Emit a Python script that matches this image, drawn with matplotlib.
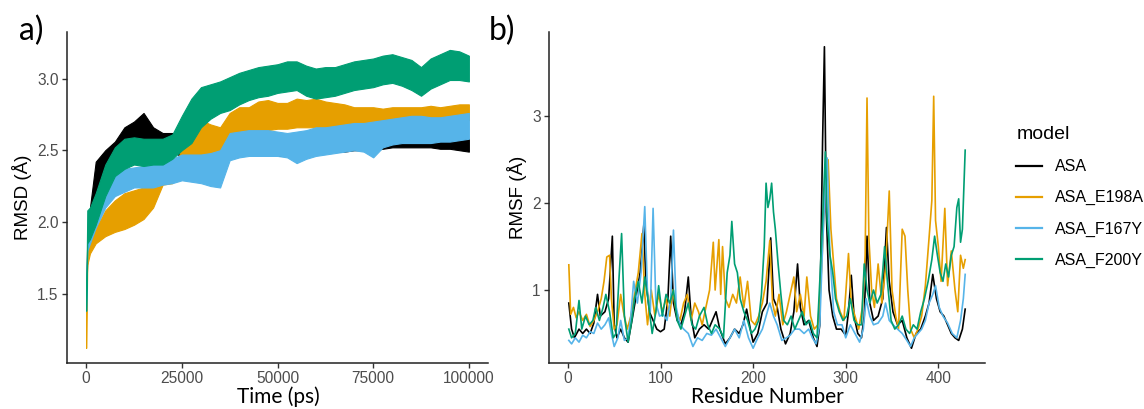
import matplotlib
matplotlib.use("Agg")
import matplotlib.pyplot as plt
import numpy as np

# ---------------- panel a: RMSD band (upper / lower edge) ----------------
time_ps = [0, 300, 1000, 2500, 5000, 7500, 10000, 12500, 15000, 17500, 20000, 22500, 25000,
           27500, 30000, 32500, 35000, 37500, 40000, 42500, 45000, 47500, 50000, 52500, 55000,
           57500, 60000, 62500, 65000, 67500, 70000, 72500, 75000, 77500, 80000, 82500, 85000,
           87500, 90000, 92500, 95000, 97500, 100000]

asa_hi = [1.45, 1.90, 2.10, 2.42, 2.50, 2.56, 2.66, 2.70, 2.76, 2.66, 2.62, 2.62, 2.60,
          2.55, 2.55, 2.55, 2.55, 2.58, 2.60, 2.62, 2.62, 2.62, 2.62, 2.61, 2.62,
          2.61, 2.62, 2.61, 2.62, 2.62, 2.61, 2.62, 2.61, 2.62, 2.62, 2.60, 2.61,
          2.60, 2.60, 2.59, 2.59, 2.58, 2.58]
asa_lo = [1.40, 1.75, 1.95, 2.15, 2.33, 2.40, 2.45, 2.55, 2.58, 2.50, 2.48, 2.50, 2.45,
          2.42, 2.43, 2.42, 2.44, 2.46, 2.47, 2.47, 2.46, 2.46, 2.46, 2.46, 2.47,
          2.47, 2.48, 2.48, 2.49, 2.49, 2.50, 2.50, 2.50, 2.51, 2.52, 2.52, 2.52,
          2.52, 2.52, 2.51, 2.51, 2.50, 2.49]

e198a_hi = [1.36, 1.80, 1.90, 1.95, 2.08, 2.15, 2.20, 2.22, 2.24, 2.29, 2.31, 2.32, 2.52,
            2.62, 2.71, 2.68, 2.66, 2.76, 2.80, 2.80, 2.84, 2.85, 2.83, 2.83, 2.86,
            2.85, 2.86, 2.84, 2.83, 2.82, 2.80, 2.80, 2.80, 2.79, 2.80, 2.80, 2.80,
            2.80, 2.81, 2.80, 2.81, 2.82, 2.82]
e198a_lo = [1.12, 1.70, 1.78, 1.85, 1.90, 1.93, 1.95, 1.98, 2.02, 2.10, 2.26, 2.27, 2.33,
            2.43, 2.46, 2.46, 2.48, 2.58, 2.62, 2.63, 2.64, 2.64, 2.65, 2.65, 2.66,
            2.66, 2.66, 2.65, 2.66, 2.66, 2.65, 2.65, 2.66, 2.66, 2.67, 2.67, 2.68,
            2.68, 2.69, 2.69, 2.70, 2.70, 2.71]

f167y_hi = [1.42, 1.88, 2.00, 2.13, 2.28, 2.34, 2.37, 2.38, 2.39, 2.40, 2.42, 2.44, 2.47,
            2.47, 2.47, 2.48, 2.50, 2.62, 2.63, 2.64, 2.64, 2.64, 2.63, 2.62, 2.63,
            2.64, 2.66, 2.66, 2.67, 2.68, 2.69, 2.69, 2.70, 2.71, 2.72, 2.73, 2.74,
            2.74, 2.73, 2.73, 2.74, 2.75, 2.76]
f167y_lo = [1.38, 1.80, 1.85, 1.96, 2.10, 2.18, 2.21, 2.24, 2.24, 2.24, 2.26, 2.27, 2.29,
            2.28, 2.27, 2.25, 2.24, 2.43, 2.45, 2.46, 2.46, 2.46, 2.46, 2.45, 2.41,
            2.44, 2.46, 2.47, 2.48, 2.49, 2.50, 2.49, 2.45, 2.52, 2.54, 2.55, 2.55,
            2.55, 2.55, 2.56, 2.56, 2.57, 2.58]

f200y_hi = [1.40, 2.08, 2.10, 2.20, 2.40, 2.52, 2.58, 2.59, 2.58, 2.58, 2.58, 2.61, 2.74,
            2.86, 2.94, 2.96, 2.98, 3.01, 3.04, 3.06, 3.08, 3.09, 3.10, 3.12, 3.12,
            3.09, 3.07, 3.08, 3.08, 3.10, 3.12, 3.13, 3.14, 3.16, 3.17, 3.15, 3.13,
            3.08, 3.14, 3.17, 3.20, 3.19, 3.16]
f200y_lo = [1.38, 1.85, 1.88, 1.98, 2.18, 2.32, 2.37, 2.40, 2.39, 2.40, 2.40, 2.44, 2.50,
            2.55, 2.66, 2.72, 2.76, 2.78, 2.82, 2.85, 2.87, 2.88, 2.90, 2.91, 2.92,
            2.88, 2.86, 2.87, 2.88, 2.90, 2.92, 2.93, 2.94, 2.96, 2.97, 2.95, 2.92,
            2.88, 2.93, 2.96, 2.99, 2.99, 2.98]

# ---------------- panel b: RMSF per residue (turning points) ----------------
asa_res = [1, 4, 7, 12, 16, 20, 24, 28, 32, 35, 40, 44, 48, 50, 53, 57, 61, 65, 70, 74, 78, 82, 84,
           88, 92, 96, 100, 104, 108, 111, 114, 118, 122, 126, 130, 133, 137, 142, 147, 152, 156,
           160, 164, 170, 175, 180, 185, 189, 193, 197, 200, 205, 210, 215, 219, 222, 226, 230,
           235, 240, 244, 248, 251, 255, 260, 265, 269, 272, 275, 277, 279, 282, 286, 290, 295,
           300, 303, 306, 309, 313, 317, 320, 323, 326, 330, 335, 340, 344, 347, 351, 356, 361,
           366, 371, 376, 381, 386, 390, 394, 398, 402, 406, 410, 414, 418, 422, 426, 429]
asa_rmsf = [0.85, 0.55, 0.45, 0.55, 0.50, 0.55, 0.50, 0.62, 0.95, 0.70, 0.75, 0.90, 1.62, 0.60,
            0.45, 0.55, 0.45, 0.40, 0.70, 0.95, 1.20, 1.75, 1.15, 0.75, 0.65, 0.55, 0.52, 0.55,
            0.90, 1.62, 0.85, 0.65, 0.60, 0.75, 1.15, 0.70, 0.45, 0.55, 0.60, 0.55, 0.65, 0.75,
            0.55, 0.38, 0.45, 0.55, 0.50, 0.60, 0.78, 0.55, 0.40, 0.50, 0.75, 0.85, 1.60, 0.90,
            0.80, 0.55, 0.38, 0.50, 0.75, 1.30, 0.80, 0.60, 0.65, 0.45, 0.35, 0.60, 2.70, 3.80,
            1.90, 1.00, 0.70, 0.55, 0.55, 0.48, 0.75, 1.17, 0.70, 0.50, 0.45, 0.70, 1.62, 0.85,
            0.65, 0.70, 0.90, 1.72, 1.10, 0.75, 0.60, 0.65, 0.45, 0.33, 0.50, 0.55, 0.70, 0.85,
            1.18, 0.90, 0.75, 0.70, 0.60, 0.50, 0.45, 0.42, 0.55, 0.78]

e198a_res = [1, 3, 6, 9, 12, 16, 20, 24, 28, 32, 36, 39, 42, 45, 47, 50, 53, 57, 60, 64, 68, 72,
             76, 80, 83, 86, 90, 94, 98, 102, 106, 110, 113, 117, 121, 125, 129, 133, 137, 141,
             145, 149, 153, 157, 159, 163, 165, 167, 170, 174, 178, 182, 186, 190, 194, 198, 202,
             206, 210, 214, 218, 221, 224, 228, 232, 236, 240, 244, 247, 251, 255, 258, 262, 266,
             270, 274, 278, 281, 284, 287, 290, 294, 298, 303, 306, 310, 314, 318, 321, 323, 325,
             328, 331, 335, 339, 343, 347, 350, 354, 357, 361, 364, 367, 370, 374, 378, 382, 386,
             390, 393, 395, 397, 400, 403, 407, 410, 414, 418, 421, 424, 427, 429]
e198a_rmsf = [1.29, 0.72, 0.80, 0.68, 0.75, 0.65, 0.72, 0.58, 0.65, 0.75, 0.90, 1.10, 1.38, 1.40,
              0.90, 0.55, 0.60, 0.95, 0.75, 0.55, 0.70, 0.95, 1.20, 1.65, 0.95, 0.60, 1.00, 0.70,
              0.95, 0.75, 0.90, 0.70, 1.00, 0.75, 0.65, 0.85, 0.95, 0.65, 0.85, 0.75, 0.60, 0.80,
              1.00, 1.55, 1.00, 1.58, 0.95, 1.50, 0.90, 0.80, 0.95, 0.85, 1.15, 0.80, 1.10, 0.65,
              0.60, 0.70, 0.85, 1.10, 1.57, 0.85, 0.70, 0.95, 0.60, 0.75, 0.95, 1.15, 0.75, 0.95,
              0.70, 1.15, 0.70, 0.55, 0.60, 1.25, 2.30, 2.50, 1.70, 1.30, 0.90, 0.75, 0.65, 1.42,
              0.85, 0.70, 0.55, 0.80, 1.40, 3.21, 1.60, 1.00, 0.80, 1.30, 0.85, 1.25, 2.14, 1.00,
              0.70, 0.55, 1.70, 1.62, 1.00, 0.55, 0.45, 0.55, 0.70, 1.05, 1.60, 2.03, 3.23, 1.80,
              1.50, 1.10, 1.94, 1.05, 1.45, 1.00, 0.75, 1.40, 1.25, 1.35]

f167y_res = [1, 4, 8, 12, 16, 20, 24, 28, 32, 36, 40, 44, 47, 50, 54, 57, 61, 65, 68, 71, 75, 79,
             83, 86, 89, 92, 95, 99, 103, 107, 111, 114, 117, 121, 125, 130, 135, 140, 145, 150,
             155, 160, 165, 170, 175, 180, 185, 190, 195, 200, 205, 210, 214, 218, 222, 226, 231,
             236, 240, 245, 250, 255, 260, 264, 268, 272, 275, 278, 280, 283, 287, 291, 296, 300,
             305, 310, 315, 319, 322, 326, 330, 335, 340, 343, 347, 351, 356, 361, 366, 370, 374,
             378, 382, 386, 390, 394, 397, 401, 405, 410, 415, 420, 424, 427, 429]
f167y_rmsf = [0.42, 0.38, 0.45, 0.40, 0.48, 0.45, 0.52, 0.50, 0.62, 0.55, 0.60, 0.68, 0.50, 0.35,
              0.45, 0.65, 0.42, 0.45, 0.70, 1.10, 0.85, 1.20, 1.96, 0.95, 0.75, 1.94, 0.85, 0.70,
              0.72, 0.65, 0.90, 1.69, 0.80, 0.60, 0.55, 0.50, 0.35, 0.45, 0.42, 0.50, 0.48, 0.55,
              0.45, 0.35, 0.45, 0.55, 0.45, 0.65, 0.45, 0.33, 0.45, 0.55, 0.70, 0.85, 0.70, 0.60,
              0.42, 0.45, 0.48, 0.55, 0.55, 0.50, 0.55, 0.45, 0.38, 0.60, 1.50, 2.20, 2.52, 1.40,
              0.75, 0.60, 0.60, 0.45, 0.60, 0.50, 0.40, 0.55, 0.90, 0.70, 0.60, 0.62, 0.70, 0.85,
              0.65, 0.60, 0.55, 0.50, 0.42, 0.35, 0.45, 0.50, 0.55, 0.65, 0.85, 0.95, 1.05, 0.80,
              0.70, 0.62, 0.50, 0.45, 0.65, 0.90, 1.18]

f200y_res = [1, 4, 8, 12, 15, 19, 23, 27, 30, 34, 38, 41, 45, 49, 52, 55, 58, 61, 65, 69, 72, 76,
             80, 83, 87, 91, 95, 98, 102, 106, 110, 114, 118, 122, 126, 130, 134, 138, 142, 147,
             151, 155, 159, 164, 168, 172, 175, 177, 180, 183, 186, 190, 194, 198, 202, 206, 209,
             212, 214, 216, 218, 220, 222, 224, 227, 230, 233, 237, 241, 245, 249, 253, 257, 261,
             265, 269, 272, 275, 278, 280, 283, 286, 289, 293, 297, 301, 305, 309, 313, 317, 320,
             323, 326, 330, 334, 338, 342, 345, 349, 353, 357, 361, 365, 369, 373, 377, 381, 385,
             389, 393, 396, 399, 402, 405, 408, 411, 414, 417, 420, 422, 424, 426, 429]
f200y_rmsf = [0.55, 0.45, 0.50, 0.88, 0.55, 0.70, 0.60, 0.65, 0.80, 0.65, 0.80, 0.95, 0.75, 0.45,
              0.50, 1.10, 1.65, 0.70, 0.40, 0.65, 0.90, 1.10, 0.85, 1.15, 0.85, 0.50, 0.75, 1.05,
              0.70, 0.95, 0.85, 1.00, 0.65, 0.55, 0.70, 0.85, 0.60, 0.55, 0.70, 0.80, 0.60, 0.50,
              0.60, 0.55, 0.45, 1.20, 1.40, 1.79, 1.30, 1.20, 0.90, 0.75, 0.65, 0.50, 0.55, 0.65,
              0.95, 1.50, 2.23, 1.95, 2.05, 2.23, 1.90, 1.70, 1.30, 0.95, 0.65, 0.60, 0.70, 0.55,
              0.65, 0.75, 0.60, 0.65, 0.50, 0.45, 1.10, 1.80, 2.59, 1.80, 1.40, 1.20, 0.90, 0.75,
              0.65, 0.70, 0.90, 0.65, 0.60, 0.60, 1.30, 1.00, 0.85, 1.00, 0.85, 0.95, 1.50, 1.10,
              0.65, 0.55, 0.60, 0.70, 0.55, 0.50, 0.60, 0.55, 0.75, 0.90, 1.10, 1.35, 1.62, 1.40,
              1.20, 1.10, 1.30, 1.15, 1.40, 1.50, 1.95, 2.05, 1.55, 1.70, 2.61]

models = ["ASA", "ASA_E198A", "ASA_F167Y", "ASA_F200Y"]
colors = ["#000000", "#E69F00", "#56B4E9", "#009E73"]

# ------------------------------------- Figure ---------------------------------------
plt.rcParams['font.family'] = ['Liberation Sans', 'DejaVu Sans']
tick_grey = '#4D4D4D'

fig = plt.figure(figsize=(11.44, 4.09), dpi=100)
ax_a = fig.add_axes([67 / 1144, 1 - 363 / 409, 421 / 1144, 331 / 409])
ax_b = fig.add_axes([549 / 1144, 1 - 363 / 409, 436 / 1144, 331 / 409])

bands = [(asa_lo, asa_hi), (e198a_lo, e198a_hi), (f167y_lo, f167y_hi), (f200y_lo, f200y_hi)]
for (lo, hi), c in zip(bands, colors):
    ax_a.fill_between(time_ps, lo, hi, color=c, lw=0.8, edgecolor=c)

curves = [(asa_res, asa_rmsf), (e198a_res, e198a_rmsf), (f167y_res, f167y_rmsf), (f200y_res, f200y_rmsf)]
handles = []
for (r, v), c, m in zip(curves, colors, models):
    ln, = ax_b.plot(r, v, color=c, lw=1.2, label=m)
    handles.append(ln)

ax_a.set_xlim(-5000, 105000)
ax_a.set_ylim(1.015, 3.325)
ax_a.set_xticks([0, 25000, 50000, 75000, 100000])
ax_a.set_yticks([1.5, 2.0, 2.5, 3.0])
ax_a.set_yticklabels(['1.5', '2.0', '2.5', '3.0'])

ax_b.set_xlim(-20.4, 450.4)
ax_b.set_ylim(0.16, 3.97)
ax_b.set_xticks([0, 100, 200, 300, 400])
ax_b.set_yticks([1, 2, 3])

for ax in (ax_a, ax_b):
    for s in ('top', 'right'):
        ax.spines[s].set_visible(False)
    for s in ('left', 'bottom'):
        ax.spines[s].set_linewidth(1.1)
        ax.spines[s].set_color('#222222')
    ax.tick_params(length=3.5, width=1.0, color='#333333', labelsize=11.2,
                   labelcolor=tick_grey, pad=2.5)

# axis titles
fig.text(278 / 1144, 1 - 397 / 409, 'Time (ps)', family=['Lato', 'DejaVu Sans'],
         fontsize=15, ha='center', va='center')
fig.text(767 / 1144, 1 - 397 / 409, 'Residue Number', family=['Lato', 'DejaVu Sans'],
         fontsize=15, ha='center', va='center')
fig.text(22 / 1144, 1 - 197 / 409, 'RMSD (Å)', fontsize=13.5, rotation=90,
         ha='center', va='center')
fig.text(517 / 1144, 1 - 197 / 409, 'RMSF (Å)', fontsize=13.5, rotation=90,
         ha='center', va='center')

# panel tags
fig.text(19 / 1144, 1 - 40 / 409, 'a)', family=['Lato', 'DejaVu Sans'], fontsize=23,
         ha='left', va='baseline')
fig.text(489 / 1144, 1 - 40 / 409, 'b)', family=['Lato', 'DejaVu Sans'], fontsize=23,
         ha='left', va='baseline')

leg = fig.legend(handles=handles, labels=models, title='model', loc='upper left',
                 bbox_to_anchor=(1010 / 1144, 1 - 120 / 409), frameon=False,
                 fontsize=11.5, title_fontsize=14, handlelength=1.6, handletextpad=0.8,
                 labelspacing=1.0, alignment='left', borderaxespad=0)
for lh in leg.get_lines():
    lh.set_linewidth(1.6)

fig.savefig('out.png', dpi=100)
